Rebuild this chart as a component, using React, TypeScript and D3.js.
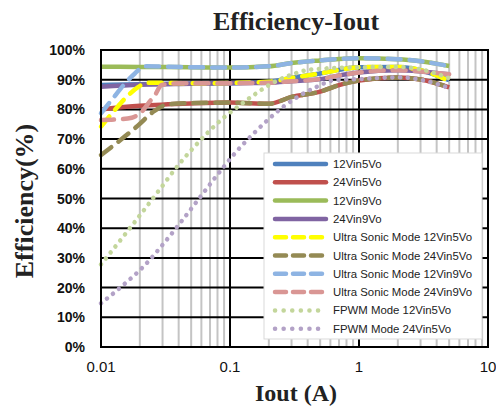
import * as d3 from "d3";
import { useRef, useEffect } from "react";

const width = 496;
const height = 407;
const marginLeft = 101;
const marginRight = 8;
const marginTop = 50;
const marginBottom = 60;

// load current (A)
const iout = [0.01, 0.02, 0.05, 0.1, 0.2, 0.3, 0.5, 0.7, 1, 2, 3, 5];
const eff12Vin5Vo = [88.2, 88.5, 88.7, 88.8, 89.3, 90.6, 92.1, 93.3, 94.2, 94.3, 93.2, 89.8];
const eff24Vin5Vo = [80.0, 81.2, 82.0, 82.3, 81.9, 84.2, 86.0, 88.2, 89.7, 90.7, 90.1, 87.4];
const eff12Vin9Vo = [94.4, 94.3, 94.2, 94.1, 94.5, 95.6, 96.5, 97.0, 97.2, 96.9, 96.2, 94.6];
const eff24Vin9Vo = [87.6, 88.3, 88.6, 88.8, 89.0, 89.5, 90.2, 91.4, 92.4, 93.2, 92.8, 91.8];

const ioutUs12Vin5Vo = [0.01, 0.0128, 0.0163, 0.0195, 0.0232, 0.05, 0.1, 0.2, 0.3, 0.5, 0.7, 1, 2, 3, 5];
const effUs12Vin5Vo = [74.2, 79.8, 84.8, 87.6, 89.0, 88.8, 88.9, 89.3, 90.6, 92.1, 93.3, 94.2, 94.3, 93.2, 89.6];
const ioutUs24Vin5Vo = [0.01, 0.0136, 0.0195, 0.0254, 0.0332, 0.05, 0.1, 0.2, 0.3, 0.5, 0.7, 1, 2, 3, 5];
const effUs24Vin5Vo = [64.6, 69.1, 74.7, 79.2, 81.7, 82.1, 82.3, 81.9, 84.2, 86.0, 88.2, 89.7, 90.7, 90.1, 87.4];
const ioutUs12Vin9Vo = [0.01, 0.0121, 0.0154, 0.0183, 0.0219, 0.05, 0.1, 0.2, 0.3, 0.5, 0.7, 1, 2, 3, 5];
const effUs12Vin9Vo = [78.7, 83.2, 88.8, 92.1, 94.5, 94.2, 94.1, 94.5, 95.6, 96.5, 97.0, 97.2, 96.9, 96.2, 94.6];
const ioutUs24Vin9Vo = [0.01, 0.013, 0.0173, 0.0207, 0.0238, 0.0262, 0.0295, 0.04, 0.1, 0.2, 0.3, 0.5, 0.7, 1, 2, 3, 5];
const effUs24Vin9Vo = [76.4, 76.6, 77.2, 79.2, 82.6, 84.8, 88.2, 88.8, 88.8, 89.0, 89.5, 90.2, 91.4, 92.4, 93.2, 92.8, 91.8];

const ioutFpwm12Vin5Vo = [0.01, 0.0171, 0.0287, 0.0395, 0.0555, 0.0898, 0.12, 0.156, 0.212, 0.319, 0.402, 1, 2, 3, 5];
const effFpwm12Vin5Vo = [27.8, 40.5, 53.2, 61.1, 68.4, 77.3, 81.5, 85.1, 88.8, 92.1, 93.3, 94.2, 94.3, 93.5, 90.5];
const ioutFpwm24Vin5Vo = [0.01, 0.0149, 0.0217, 0.0304, 0.0422, 0.0578, 0.0789, 0.109, 0.156, 0.259, 0.47, 0.651, 1, 2, 3, 5];
const effFpwm24Vin5Vo = [14.7, 20.9, 27.4, 34.7, 42.4, 50.1, 57.7, 65.2, 72.3, 80.9, 87.6, 89.9, 90.2, 90.8, 90.0, 87.2];

const xTicks = [0.01, 0.1, 1, 10];
const yTicks = [0, 10, 20, 30, 40, 50, 60, 70, 80, 90, 100];

const series = [
  { name: "12Vin5Vo", x: iout, y: eff12Vin5Vo, color: "#4F81BD", style: "solid" },
  { name: "24Vin5Vo", x: iout, y: eff24Vin5Vo, color: "#C0504D", style: "solid" },
  { name: "12Vin9Vo", x: iout, y: eff12Vin9Vo, color: "#9BBB59", style: "solid" },
  { name: "24Vin9Vo", x: iout, y: eff24Vin9Vo, color: "#8064A2", style: "solid" },
  { name: "Ultra Sonic Mode 12Vin5Vo", x: ioutUs12Vin5Vo, y: effUs12Vin5Vo, color: "#FFFF00", style: "dash" },
  { name: "Ultra Sonic Mode 24Vin5Vo", x: ioutUs24Vin5Vo, y: effUs24Vin5Vo, color: "#948A54", style: "dash" },
  { name: "Ultra Sonic Mode 12Vin9Vo", x: ioutUs12Vin9Vo, y: effUs12Vin9Vo, color: "#8EB4E3", style: "dash" },
  { name: "Ultra Sonic Mode 24Vin9Vo", x: ioutUs24Vin9Vo, y: effUs24Vin9Vo, color: "#D99694", style: "dash" },
  { name: "FPWM Mode 12Vin5Vo", x: ioutFpwm12Vin5Vo, y: effFpwm12Vin5Vo, color: "#C3D69B", style: "dot" },
  { name: "FPWM Mode 24Vin5Vo", x: ioutFpwm24Vin5Vo, y: effFpwm24Vin5Vo, color: "#B3A2C7", style: "dot" },
];

const dashFor = (style: string) =>
  style === "dash" ? "13 9" : style === "dot" ? "0.1 7.6" : null;

export default function App() {
  const svgRef = useRef<SVGSVGElement>(null);

  useEffect(() => {
    const svg = d3.select(svgRef.current);
    svg.selectAll("*").remove();

    const x = d3
      .scaleLog()
      .domain([0.01, 10])
      .range([marginLeft, width - marginRight]);
    const y = d3
      .scaleLinear()
      .domain([0, 100])
      .range([height - marginBottom, marginTop]);

    const grid = svg.append("g");
    // minor vertical gridlines
    const minor: number[] = [];
    [0.01, 0.1, 1].forEach((d) => {
      for (let k = 2; k <= 9; k++) minor.push(d * k);
    });
    grid
      .selectAll(".minor")
      .data(minor)
      .join("line")
      .attr("x1", (d) => x(d))
      .attr("x2", (d) => x(d))
      .attr("y1", marginTop)
      .attr("y2", height - marginBottom)
      .attr("stroke", "#c4c4c4")
      .attr("stroke-width", 2);
    grid
      .selectAll(".ymajor")
      .data(yTicks)
      .join("line")
      .attr("x1", marginLeft)
      .attr("x2", width - marginRight)
      .attr("y1", (d) => y(d))
      .attr("y2", (d) => y(d))
      .attr("stroke", "black")
      .attr("stroke-width", 2);
    grid
      .selectAll(".xmajor")
      .data(xTicks)
      .join("line")
      .attr("x1", (d) => x(d))
      .attr("x2", (d) => x(d))
      .attr("y1", marginTop)
      .attr("y2", height - marginBottom)
      .attr("stroke", "black")
      .attr("stroke-width", 2);

    // legend box sits under the curves but over the grid
    const lg = svg.append("g");
    lg.append("rect")
      .attr("x", 264)
      .attr("y", 153)
      .attr("width", 218)
      .attr("height", 186)
      .attr("fill", "white")
      .attr("stroke", "#d9d9d9")
      .attr("stroke-width", 1);

    const line = d3
      .line<[number, number]>()
      .x((d) => x(d[0]))
      .y((d) => y(d[1]))
      .curve(d3.curveMonotoneX);

    const chart = svg.append("g");
    series.forEach((s) => {
      const pts = s.x.map((v, i) => [v, s.y[i]] as [number, number]);
      const p = chart
        .append("path")
        .attr("d", line(pts))
        .attr("fill", "none")
        .attr("stroke", s.color)
        .attr("stroke-width", 4.5)
        .attr("stroke-linecap", s.style === "solid" ? "butt" : "round")
        .attr("stroke-linejoin", "round");
      const dash = dashFor(s.style);
      if (dash) p.attr("stroke-dasharray", dash);
    });

    // legend entries
    series.forEach((s, i) => {
      const ly = 164 + i * 18.3;
      const l = lg
        .append("line")
        .attr("x1", 275)
        .attr("x2", 326)
        .attr("y1", ly)
        .attr("y2", ly)
        .attr("stroke", s.color)
        .attr("stroke-width", 4.5)
        .attr("stroke-linecap", "round");
      const dash = dashFor(s.style);
      if (dash) l.attr("stroke-dasharray", s.style === "dash" ? "11 7" : "0.1 8.5");
      lg.append("text")
        .attr("x", 333)
        .attr("y", ly + 4)
        .attr("font-family", "'Liberation Sans', Arial, sans-serif")
        .attr("font-size", 11.4)
        .attr("fill", "#222")
        .text(s.name);
    });

    // plot border
    svg
      .append("rect")
      .attr("x", marginLeft)
      .attr("y", marginTop)
      .attr("width", width - marginLeft - marginRight)
      .attr("height", height - marginTop - marginBottom)
      .attr("fill", "none")
      .attr("stroke", "black")
      .attr("stroke-width", 2);

    // tick labels
    svg
      .append("g")
      .selectAll("text")
      .data(yTicks)
      .join("text")
      .attr("x", 85)
      .attr("y", (d) => y(d) + 5)
      .attr("text-anchor", "end")
      .attr("font-family", "'Liberation Sans', Arial, sans-serif")
      .attr("font-weight", "bold")
      .attr("font-size", 14)
      .attr("fill", "#111")
      .text((d) => `${d}%`);
    svg
      .append("g")
      .selectAll("text")
      .data(xTicks)
      .join("text")
      .attr("x", (d) => x(d))
      .attr("y", height - marginBottom + 25)
      .attr("text-anchor", "middle")
      .attr("font-family", "'Liberation Sans', Arial, sans-serif")
      .attr("font-size", 15)
      .attr("fill", "#111")
      .text((d) => String(d));

    // titles
    svg
      .append("text")
      .attr("x", 296)
      .attr("y", 30)
      .attr("text-anchor", "middle")
      .attr("font-family", "'Liberation Serif', 'Times New Roman', serif")
      .attr("font-weight", "bold")
      .attr("font-size", 26)
      .attr("fill", "#222")
      .text("Efficiency-Iout");
    svg
      .append("text")
      .attr("x", 296)
      .attr("y", 401)
      .attr("text-anchor", "middle")
      .attr("font-family", "'Liberation Serif', 'Times New Roman', serif")
      .attr("font-weight", "bold")
      .attr("font-size", 24)
      .attr("fill", "#222")
      .text("Iout (A)");
    svg
      .append("text")
      .attr("transform", "translate(33,201) rotate(-90)")
      .attr("text-anchor", "middle")
      .attr("font-family", "'Liberation Serif', 'Times New Roman', serif")
      .attr("font-weight", "bold")
      .attr("font-size", 26)
      .attr("fill", "#222")
      .text("Efficiency(%)");
  }, []);

  return (
    <svg
      ref={svgRef}
      width={width}
      height={height}
      style={{ position: "absolute", left: 0, top: 0, background: "white" }}
    />
  );
}
